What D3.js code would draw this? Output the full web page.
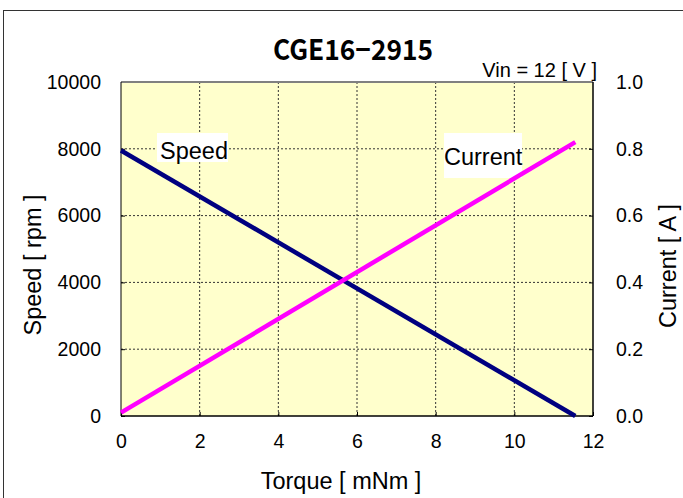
<!DOCTYPE html>
<html><head><meta charset="utf-8">
<script src="https://cdn.jsdelivr.net/npm/d3@7"></script>
<style>body{margin:0;background:#fff;} svg{display:block;} text{font-family:"Liberation Sans",Arial,sans-serif;fill:#000;}</style>
</head><body>
<svg id="c" width="683" height="498"></svg>
<script>
const title = "CGE16\u22122915";
const note = "Vin = 12 [ V ]";
const torque = [0, 11.55];
const speed = [7950, 0];
const current = [0.01, 0.82];
const xTicks = [0, 2, 4, 6, 8, 10, 12];
const speedTicks = [0, 2000, 4000, 6000, 8000, 10000];
const currentTicks = [0, 0.2, 0.4, 0.6, 0.8, 1.0];

const svg = d3.select("#c");
const L = 121, R = 593, T = 82, B = 416;
const x = d3.scaleLinear().domain([0, 12]).range([L, R]);
const yS = d3.scaleLinear().domain([0, 10000]).range([B, T]);
const yC = d3.scaleLinear().domain([0, 1]).range([B, T]);

// outer frame
svg.append("rect").attr("x", 3.5).attr("y", 10.5).attr("width", 700).attr("height", 500)
  .attr("fill", "none").attr("stroke", "#333").attr("stroke-width", 1);

// plot bg
svg.append("rect").attr("x", L).attr("y", T).attr("width", R - L).attr("height", B - T).attr("fill", "#FFFFCC");

// grid
const g = svg.append("g");
xTicks.slice(1, -1).forEach(t => g.append("line").attr("x1", x(t)).attr("x2", x(t)).attr("y1", T).attr("y2", B)
  .attr("stroke", "#333").attr("stroke-width", 1).attr("stroke-dasharray", "2,2"));
speedTicks.slice(1, -1).forEach(t => g.append("line").attr("x1", L).attr("x2", R).attr("y1", yS(t)).attr("y2", yS(t))
  .attr("stroke", "#333").attr("stroke-width", 1).attr("stroke-dasharray", "2,2"));

// axes
const axL = svg.append("g").attr("transform", `translate(${L},0)`)
  .call(d3.axisLeft(yS).tickValues(speedTicks).tickSize(-4).tickPadding(20).tickFormat(d3.format("d")));
const axR = svg.append("g").attr("transform", `translate(${R},0)`)
  .call(d3.axisRight(yC).tickValues(currentTicks).tickSize(-4).tickPadding(23).tickFormat(d3.format(".1f")));
const axB = svg.append("g").attr("transform", `translate(0,${B})`)
  .call(d3.axisBottom(x).tickValues(xTicks).tickSize(-4).tickPadding(18).tickFormat(d3.format("d")));
[axL, axR, axB].forEach(a => {
  a.select(".domain").remove();
  a.selectAll("text").style("font-size", "19.5px").style("font-family", "'Liberation Sans', Arial, sans-serif");
  a.selectAll(".tick line").attr("stroke", "#000");
});
axB.selectAll("text").attr("dy", "0.71em");

// border
svg.append("line").attr("x1", L).attr("x2", R).attr("y1", T).attr("y2", T).attr("stroke", "#808080").attr("stroke-width", 2);
svg.append("line").attr("x1", L).attr("x2", L).attr("y1", T).attr("y2", B).attr("stroke", "#000").attr("stroke-width", 1);
svg.append("line").attr("x1", R).attr("x2", R).attr("y1", T).attr("y2", B).attr("stroke", "#000").attr("stroke-width", 1.5);
svg.append("line").attr("x1", L).attr("x2", R).attr("y1", B).attr("y2", B).attr("stroke", "#000").attr("stroke-width", 1.5);

// label boxes
svg.append("rect").attr("x", 157).attr("y", 133).attr("width", 71).attr("height", 29).attr("fill", "#fff");
svg.append("text").attr("x", 160).attr("y", 159).style("font-size", "23.5px").text("Speed");
svg.append("rect").attr("x", 444).attr("y", 133).attr("width", 78).attr("height", 45).attr("fill", "#fff");
svg.append("text").attr("x", 444).attr("y", 165).style("font-size", "23.5px").text("Current");

// lines
const lineS = d3.line().x((d, i) => x(torque[i])).y(d => yS(d));
const lineC = d3.line().x((d, i) => x(torque[i])).y(d => yC(d));
svg.append("path").attr("d", lineS(speed)).attr("fill", "none").attr("stroke", "#000080").attr("stroke-width", 4.5);
svg.append("path").attr("d", lineC(current)).attr("fill", "none").attr("stroke", "#FF00FF").attr("stroke-width", 4.5);

// titles
svg.append("text").attr("x", 273).attr("y", 60).attr("textLength", 160).attr("lengthAdjust", "spacingAndGlyphs")
  .style("font-size", "28px").style("font-weight", "bold").style("font-family", "'Noto Sans CJK JP','Liberation Sans',sans-serif").text(title);
svg.append("text").attr("x", 597).attr("y", 77).attr("text-anchor", "end").style("font-size", "20px").text(note);
svg.append("text").attr("x", 341).attr("y", 489).attr("text-anchor", "middle").style("font-size", "23.5px").text("Torque [ mNm ]");
svg.append("text").attr("transform", "translate(41,265) rotate(-90)").attr("text-anchor", "middle").style("font-size", "23.5px").text("Speed [ rpm ]");
svg.append("text").attr("transform", "translate(676,266) rotate(-90)").attr("text-anchor", "middle").style("font-size", "23.5px").text("Current [ A ]");
</script>
</body></html>
